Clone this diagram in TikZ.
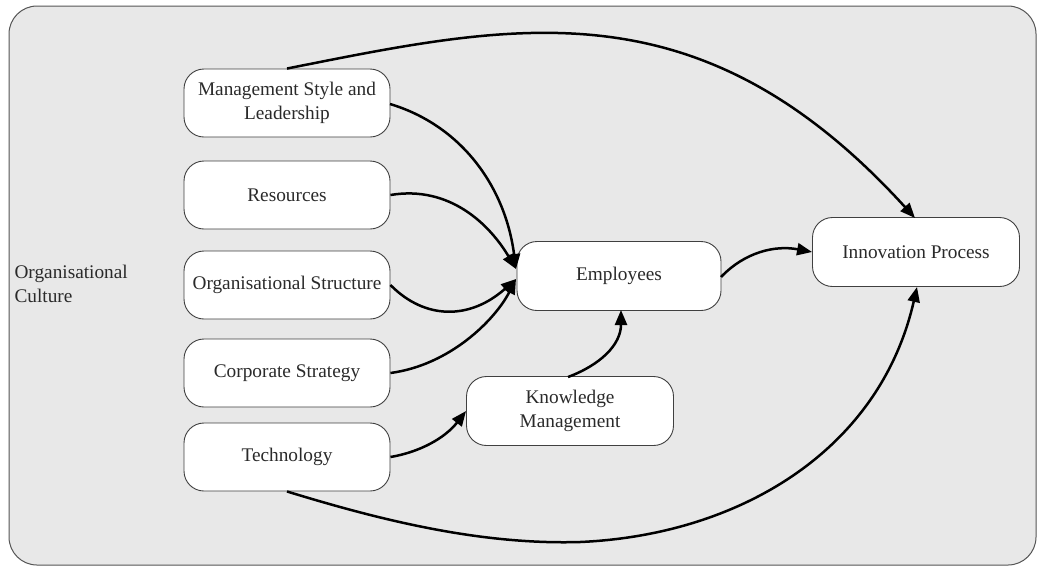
\documentclass[tikz,border=0pt]{standalone}
\usepackage{fontspec}
\setmainfont{Liberation Serif}
\usetikzlibrary{arrows.meta}
\definecolor{bgcol}{HTML}{E8E8E8}
\definecolor{framecol}{HTML}{555555}
\definecolor{txtcol}{HTML}{2A2A2A}
\tikzset{
  lbl/.style={text=txtcol, font=\fontsize{19.3}{23.3}\selectfont},
  box/.style={lbl, draw=black!75, fill=white, rounded corners=20pt, minimum width=206pt, minimum height=68pt, align=center, inner sep=2pt, line width=0.9pt},
  conn/.style={line width=2.5pt, -{Triangle[length=15pt,width=12pt]}}
}
\begin{document}
\begin{tikzpicture}[x=1pt,y=-1pt]
\useasboundingbox (0,0) rectangle (1038,566);
\draw[fill=bgcol, draw=framecol, line width=1pt, rounded corners=28pt] (9,6) rectangle (1036,565);
\node[lbl, anchor=west, align=left] (oc) at (11,284) {Organisational\\Culture};
\node[box] (mgmt) at (287,103) {Management Style and\\Leadership};
\node[box] (res) at (287,195) {Resources};
\node[box] (org) at (287,285) {Organisational Structure};
\node[box] (corp) at (287,373) {Corporate Strategy};
\node[box] (tech) at (287,457) {Technology};
\node[box, minimum width=204pt, minimum height=69pt] (emp) at (619,276) {Employees};
\node[box, minimum width=207pt, minimum height=69pt] (km) at (570,411) {Knowledge\\Management};
\node[box, minimum width=207pt, minimum height=69pt] (inn) at (916,252) {Innovation Process};
\coordinate (empa) at (516,269);
\coordinate (empb) at (516,279);
\coordinate (innb) at (917,287);
\coordinate (innt) at (915,218);
\coordinate (empbot) at (621,310);
\draw[conn] (mgmt.north) .. controls (516,23) and (700,-18) .. (innt);
\draw[conn] (390,104) .. controls (460,125) and (505,185) .. (empa);
\draw[conn] (res.east) .. controls (450,185) and (490,225) .. (empa);
\draw[conn] (org.east) .. controls (425,320) and (470,320) .. (empb);
\draw[conn] (corp.east) .. controls (450,365) and (495,320) .. (empb);
\draw[conn] (tech.east) .. controls (420,452) and (445,438) .. (km.west);
\draw[conn] (568,377) .. controls (600,365) and (621,345) .. (empbot);
\draw[conn] (721,277) .. controls (745,252) and (775,245) .. (inn.west);
\draw[conn] (tech.south) .. controls (380,520) and (480,545) .. (580,542) .. controls (740,535) and (880,450) .. (innb);
\end{tikzpicture}
\end{document}
